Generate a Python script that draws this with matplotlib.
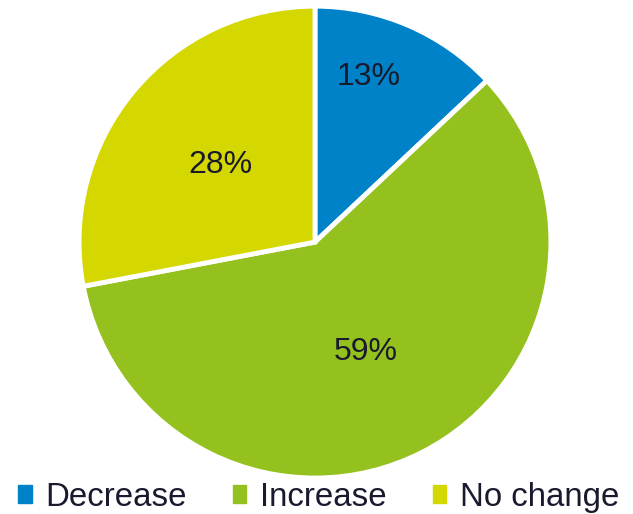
import matplotlib
matplotlib.use("Agg")
import matplotlib.pyplot as plt
import numpy as np

categories = ["Decrease", "Increase", "No change"]
values = [13, 59, 28]
labels = ["13%", "59%", "28%"]
colors = ["#0082C8", "#95C11F", "#D4D800"]
label_pos = [(0.229, 0.70), (0.216, -0.466), (-0.40, 0.326)]

plt.rcParams['font.family'] = ['Liberation Sans', 'DejaVu Sans']

fig = plt.figure(figsize=(6.33, 5.14), dpi=100)
ax = fig.add_axes([0.1248, 0.070, 0.7456, 0.918])
wedges, _ = ax.pie(values, colors=colors, startangle=90, counterclock=False,
                   wedgeprops=dict(edgecolor="white", linewidth=3.5))
for (x, y), t in zip(label_pos, labels):
    ax.text(x, y, t, ha="center", va="center", fontsize=23, color="#1a1a2e")
ax.set_xlim(-1.0, 1.0)
ax.set_ylim(-1.0, 1.0)
ax.set_aspect("equal")

handles = [plt.Rectangle((0, 0), 1, 1, color=c) for c in colors]
fig.legend(handles, categories, loc="center", bbox_to_anchor=(0.503, 0.033),
           ncol=3, frameon=False, fontsize=23.8, handlelength=0.42, handleheight=0.45,
           handletextpad=0.4, columnspacing=1.4, labelcolor="#1a1a2e",
           borderpad=0, borderaxespad=0)
fig.savefig("out.png", dpi=100)
